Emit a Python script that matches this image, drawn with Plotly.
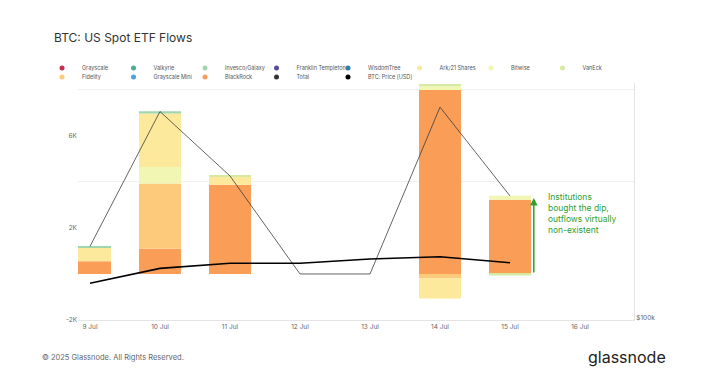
import plotly.graph_objects as go

# ---------------- data (BTC flows) ----------------
days = ["9 Jul", "10 Jul", "11 Jul", "12 Jul", "13 Jul", "14 Jul", "15 Jul", "16 Jul"]

grayscale      = [0, 0, 0, 0, 0, 0, 0, None]
valkyrie       = [0, 0, 0, 0, 0, 0, 0, None]
invesco_galaxy = [90, 100, 0, 0, 0, 0, 0, None]
franklin       = [0, 0, 0, 0, 0, 0, 0, None]
wisdomtree     = [0, 0, 0, 0, 0, 0, 0, None]
ark21          = [580, 2320, 360, 0, 0, -870, 0, None]
bitwise        = [0, 720, 0, 0, 0, 160, 170, None]
vaneck         = [0, 0, 60, 0, 0, 100, -70, None]
fidelity       = [0, 2830, 0, 0, 0, -200, 0, None]
grayscale_mini = [0, 0, 0, 0, 0, 0, 0, None]
blackrock      = [550, 1100, 3880, 0, 0, 8000, 3230, None]

total     = [1200, 7060, 4260, 0, 0, 7250, 3390, None]
btc_price = [108700, 112400, 113700, 113700, 114750, 115300, 113800, None]

y_tickvals = [-2000, 2000, 6000]
y_ticktext = ["-2K", "2K", "6K"]

issuer_names = ["Grayscale", "Valkyrie", "Invesco/Galaxy", "Franklin Templeton", "WisdomTree",
                "Ark/21 Shares", "Bitwise", "VanEck", "Fidelity", "Grayscale Mini", "BlackRock"]
issuer_values = [grayscale, valkyrie, invesco_galaxy, franklin, wisdomtree,
                 ark21, bitwise, vaneck, fidelity, grayscale_mini, blackrock]
issuer_colors = ["#c9304b", "#45b08f", "#9fd6ae", "#5a4a9c", "#2a80b6",
                 "#fde99c", "#f1f6b2", "#d5e9a2", "#fdca7c", "#48a2de", "#f99d57"]
# stacking order (bottom first)
stack_order = ["BlackRock", "Fidelity", "Bitwise", "Ark/21 Shares", "VanEck", "Invesco/Galaxy",
               "Valkyrie", "Grayscale", "Franklin Templeton", "WisdomTree", "Grayscale Mini"]

x_idx = list(range(len(days)))
FONT = "Inter, Roboto, sans-serif"

# plot area in pixels (for placing texts in paper coordinates)
W, H = 720, 377
L, R, T, B = 78, 86, 83, 57
PW, PH = W - L - R, H - T - B


def px_to_paper(px, py):
    return (px - L) / PW, (H - B - py) / PH


fig = go.Figure()

lookup = {n: (v, c) for n, v, c in zip(issuer_names, issuer_values, issuer_colors)}
for name in stack_order:
    vals, col = lookup[name]
    fig.add_trace(go.Bar(x=x_idx, y=vals, name=name, marker=dict(color=col, line=dict(width=0)),
                         width=0.6, showlegend=False))

n_days_data = 7
fig.add_trace(go.Scatter(x=x_idx[:n_days_data], y=total[:n_days_data], mode="lines",
                         line=dict(color="#3c3c3c", width=0.8), name="Total", showlegend=False))
fig.add_trace(go.Scatter(x=x_idx[:n_days_data], y=btc_price[:n_days_data], mode="lines",
                         line=dict(color="#000000", width=1.6), name="BTC: Price [USD]",
                         yaxis="y2", showlegend=False))

# legend proxies (dots)
legend_names = issuer_names + ["Total", "BTC: Price [USD]"]
legend_colors = issuer_colors + ["#333333", "#000000"]
for i, (n, c) in enumerate(zip(legend_names, legend_colors)):
    leg = "legend" if i < 8 else ("legend2" if i < 12 else "legend3")
    fig.add_trace(go.Scatter(x=[None], y=[None], mode="markers", name=n,
                             marker=dict(color=c, size=5, symbol="circle"),
                             legend=leg, showlegend=True))

ENTRY = 71.5
leg_common = dict(orientation="h", font=dict(family=FONT, size=5.5, color="#555555"),
                  entrywidthmode="pixels", xref="paper", yref="paper",
                  xanchor="left", yanchor="middle", bgcolor="rgba(0,0,0,0)", itemwidth=30,
                  tracegroupgap=0)
lx, ly1 = px_to_paper(42, 68)
lx3, ly2 = px_to_paper(42 + 4 * ENTRY, 77)

fig.update_layout(
    width=W, height=H,
    margin=dict(l=L, r=R, t=T, b=B, autoexpand=False),
    paper_bgcolor="white", plot_bgcolor="white",
    barmode="relative",
    font=dict(family=FONT, color="#555555"),
    title=dict(text="BTC: US Spot ETF Flows", x=54 / W, xanchor="left", y=1 - 38 / H,
               yanchor="middle", font=dict(family=FONT, size=12, color="#333333")),
    legend=dict(x=lx, y=ly1, entrywidth=ENTRY - 45, **leg_common),
    legend2=dict(x=lx, y=ly2, entrywidth=ENTRY - 45, **leg_common),
    legend3=dict(x=lx3, y=ly2, entrywidth=0, **leg_common),
    xaxis=dict(range=[-0.171, 7.771], tickmode="array", tickvals=x_idx, ticktext=days,
               showgrid=False, zeroline=False, showline=True, linecolor="#e4e4e4", linewidth=1,
               ticks="", tickfont=dict(family=FONT, size=6.5, color="#666666")),
    yaxis=dict(range=[-2000, 8300], tickmode="array", tickvals=y_tickvals, ticktext=y_ticktext,
               showgrid=False, zeroline=False, showline=False, ticks="",
               tickfont=dict(family=FONT, size=6.5, color="#666666"),
               minor=dict(tickvals=[4000, 8000], showgrid=True, gridcolor="#f0f0f0", gridwidth=1,
                          ticks="")),
    yaxis2=dict(overlaying="y", side="right", range=[99500, 158750], tickmode="array",
                tickvals=[100000], ticktext=["$100k"], showgrid=False, zeroline=False,
                showline=True, linecolor="#e4e4e4", linewidth=1, ticks="",
                tickfont=dict(family=FONT, size=6.5, color="#666666")),
)

# upward arrow (head at top)
fig.add_annotation(x=6.34, y=3300, ax=6.34, ay=0, xref="x", yref="y", axref="x", ayref="y",
                   text="", showarrow=True, arrowhead=2, arrowsize=1, arrowwidth=1.5,
                   arrowcolor="#2f9e2f")
fig.add_annotation(x=6.52, y=2650, xref="x", yref="y", xanchor="left", yanchor="middle",
                   align="left", showarrow=False,
                   text="Institutions<br>bought the dip,<br>outflows virtually<br>non-existent",
                   font=dict(family=FONT, size=8.5, color="#2f9e2f"))

cx, cy = px_to_paper(40, 357)
fig.add_annotation(x=cx, y=cy, xref="paper", yref="paper", xanchor="left", yanchor="middle",
                   showarrow=False, text="© 2025 Glassnode. All Rights Reserved.",
                   font=dict(family=FONT, size=7.5, color="#666666"))
gx, gy = px_to_paper(668, 357)
fig.add_annotation(x=gx, y=gy, xref="paper", yref="paper", xanchor="right", yanchor="middle",
                   showarrow=False, text="glassnode",
                   font=dict(family=FONT, size=16, color="#222222"))

fig.write_html("out.html", config={"displayModeBar": False},
               post_script="document.body.style.margin='0';document.body.style.padding='0';")
